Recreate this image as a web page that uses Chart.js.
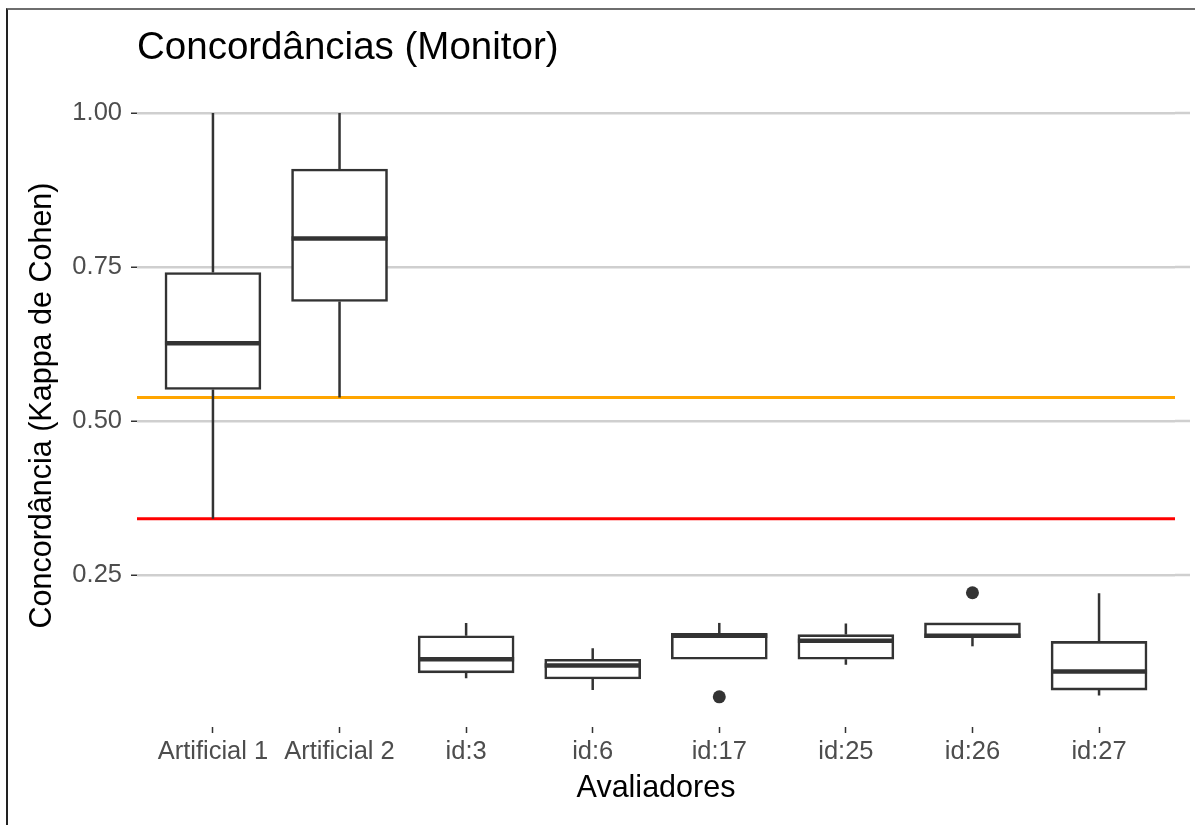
<!DOCTYPE html>
<html>
<head>
<meta charset="utf-8">
<script src="https://cdn.jsdelivr.net/npm/chart.js@4.4.1/dist/chart.umd.min.js"></script>
<style>
  html, body { margin: 0; padding: 0; background: #ffffff; }
  #wrap { position: relative; width: 1195px; height: 825px; overflow: hidden; }
  #frame {
    position: absolute; left: 6px; top: 8px; right: 0; bottom: 0;
    border-left: 2px solid #222222; border-top: 2px solid #6e6e6e;
    pointer-events: none;
  }
</style>
</head>
<body>
<div id="wrap">
  <canvas id="chart" width="1195" height="825"></canvas>
  <div id="frame"></div>
</div>
<script>
// Kappa agreement per rater: five-number summaries of each box
const categories  = ['Artificial 1', 'Artificial 2', 'id:3', 'id:6', 'id:17', 'id:25', 'id:26', 'id:27'];
const whiskerLow  = [0.341, 0.538, 0.082, 0.063, 0.113, 0.104, 0.134, 0.054];
const quartile1   = [0.551, 0.694, 0.091, 0.081, 0.113, 0.113, 0.148, 0.063];
const medians     = [0.626, 0.796, 0.113, 0.103, 0.151, 0.143, 0.151, 0.093];
const quartile3   = [0.741, 0.909, 0.151, 0.113, 0.155, 0.153, 0.172, 0.142];
const whiskerHigh = [1.000, 1.000, 0.172, 0.131, 0.172, 0.171, 0.172, 0.220];

// Points beyond the whiskers (category index, kappa)
const outlierCategory = [4, 6];
const outlierValue    = [0.052, 0.221];

// Reference levels
const levelOrange = 0.538;
const levelRed    = 0.341;

const yTickValues = [0.25, 0.50, 0.75, 1.00];

const FONT = "'Liberation Sans', Arial, Helvetica, sans-serif";
const INK = '#333333';
const GRID = '#cfcfcf';
const BOX_PX = 96;

// Whiskers and thick median bars on top of the floating-bar boxes
const boxPlotLines = {
  id: 'boxPlotLines',
  afterDatasetsDraw(chart) {
    const { ctx, scales: { x, y } } = chart;
    ctx.save();
    ctx.strokeStyle = INK;
    ctx.lineCap = 'butt';
    categories.forEach((_, i) => {
      const px = x.getPixelForValue(i);
      ctx.lineWidth = 2.5;
      ctx.beginPath();
      ctx.moveTo(px, y.getPixelForValue(quartile3[i]));
      ctx.lineTo(px, y.getPixelForValue(whiskerHigh[i]));
      ctx.moveTo(px, y.getPixelForValue(quartile1[i]));
      ctx.lineTo(px, y.getPixelForValue(whiskerLow[i]));
      ctx.stroke();
      ctx.lineWidth = 4.5;
      const my = y.getPixelForValue(medians[i]);
      ctx.beginPath();
      ctx.moveTo(px - BOX_PX / 2, my);
      ctx.lineTo(px + BOX_PX / 2, my);
      ctx.stroke();
    });
    ctx.restore();
  }
};

// Horizontal grid lines run a little past the panel on the right
const gridRunout = {
  id: 'gridRunout',
  beforeDatasetsDraw(chart) {
    const { ctx, chartArea, scales: { y } } = chart;
    ctx.save();
    ctx.strokeStyle = GRID;
    ctx.lineWidth = 2.5;
    y.ticks.forEach(t => {
      const py = Math.round(y.getPixelForValue(t.value));
      ctx.beginPath();
      ctx.moveTo(chartArea.right, py);
      ctx.lineTo(chartArea.right + 15, py);
      ctx.stroke();
    });
    ctx.restore();
  }
};

const xMin = -0.6, xMax = categories.length - 1 + 0.6;

new Chart(document.getElementById('chart'), {
  type: 'bar',
  data: {
    datasets: [
      {
        type: 'bar',
        data: categories.map((_, i) => ({ x: i, y: [quartile1[i], quartile3[i]] })),
        backgroundColor: '#ffffff',
        borderColor: INK,
        borderWidth: 2.6,
        borderSkipped: false,
        barThickness: BOX_PX,
        order: 1
      },
      {
        type: 'scatter',
        data: outlierCategory.map((c, k) => ({ x: c, y: outlierValue[k] })),
        pointRadius: 6.5,
        pointBackgroundColor: INK,
        pointBorderWidth: 0,
        order: 0
      },
      {
        type: 'line',
        data: [{ x: xMin, y: levelOrange }, { x: xMax, y: levelOrange }],
        borderColor: '#FFA500',
        borderWidth: 3,
        pointRadius: 0,
        order: 2
      },
      {
        type: 'line',
        data: [{ x: xMin, y: levelRed }, { x: xMax, y: levelRed }],
        borderColor: '#FF0000',
        borderWidth: 3,
        pointRadius: 0,
        order: 2
      }
    ]
  },
  options: {
    responsive: false,
    devicePixelRatio: 1,
    animation: false,
    layout: { padding: { left: 0, right: 20, top: 0, bottom: 0 } },
    plugins: {
      legend: { display: false },
      tooltip: { enabled: false },
      title: {
        display: true,
        text: 'Concordâncias (Monitor)',
        align: 'start',
        fullSize: false,
        color: '#000000',
        font: { family: FONT, size: 38.5, weight: 'normal', lineHeight: 1.2 },
        padding: { top: 25, bottom: 12.8 }
      }
    },
    scales: {
      x: {
        type: 'linear',
        min: xMin,
        max: xMax,
        offset: false,
        afterBuildTicks(scale) { scale.ticks = categories.map((_, i) => ({ value: i })); },
        afterFit(scale) { scale.height = 98; },
        border: { display: false },
        grid: { offset: false, drawOnChartArea: false, drawTicks: true, tickLength: 6, tickColor: INK, tickWidth: 1.5 },
        ticks: {
          autoSkip: false, maxRotation: 0, padding: 4,
          color: '#4d4d4d',
          font: { family: FONT, size: 25.5 },
          callback: v => categories[v]
        },
        title: {
          display: true, text: 'Avaliadores', color: '#000000',
          font: { family: FONT, size: 30.5, lineHeight: 1.2 },
          padding: { top: 0, bottom: 18 }
        }
      },
      y: {
        type: 'linear',
        min: 0.003,
        max: 1.047,
        afterBuildTicks(scale) { scale.ticks = yTickValues.map(v => ({ value: v })); },
        afterFit(scale) { scale.width = 137; },
        border: { display: false },
        grid: { color: GRID, lineWidth: 2.5, drawTicks: true, tickLength: 6, tickColor: INK, tickWidth: 1.5 },
        ticks: {
          padding: 9,
          color: '#4d4d4d',
          font: { family: FONT, size: 25.5 },
          callback: v => v.toFixed(2)
        },
        title: {
          display: true, text: 'Concordância (Kappa de Cohen)', color: '#000000',
          font: { family: FONT, size: 30.5, lineHeight: 1.2 },
          padding: { top: 24, bottom: 0 }
        }
      }
    }
  },
  plugins: [gridRunout, boxPlotLines]
});
</script>
</body>
</html>
